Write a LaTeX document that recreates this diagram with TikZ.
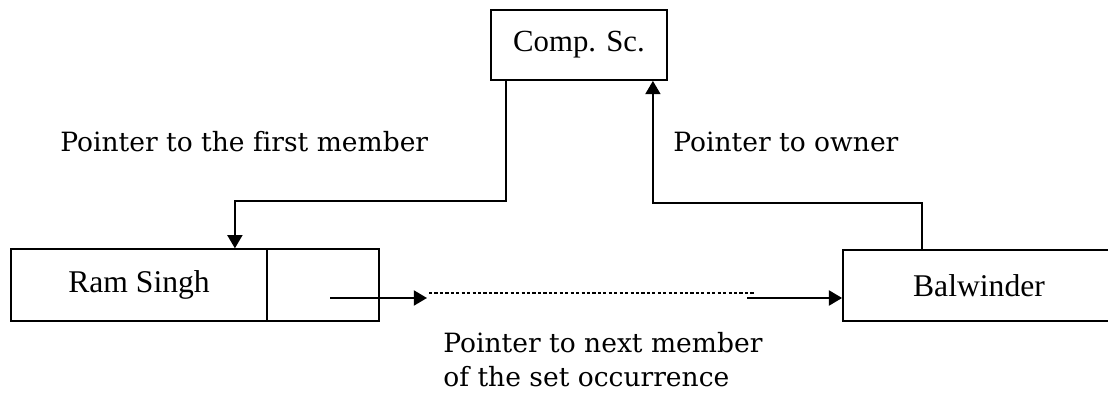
\documentclass[tikz,border=0pt]{standalone}
\usepackage{fontspec}
\setmainfont{Liberation Serif}
\newfontfamily\labelfont[Ligatures=CommonOff]{DejaVu Serif}
\usetikzlibrary{arrows.meta,calc}

\tikzset{
  rec/.style={draw, line width=1.05pt, inner sep=0pt, minimum height=1.43cm,
    font=\fontsize{18}{20}\selectfont},
  lbl/.style={anchor=base west, inner sep=0pt,
    font=\labelfont\fontsize{15.1}{19}\selectfont},
  link/.style={->, line width=1.05pt},
}

\begin{document}
\begin{tikzpicture}[x=0.02cm, y=-0.02cm, >={Triangle[length=7.5pt,width=8.5pt]}]
  \useasboundingbox (0,0) rectangle (1108,394);

  % owner record
  \node[rec, minimum width=3.52cm, minimum height=1.4cm,
    font=\fontsize{17.5}{20}\selectfont] (comp) at (579,45) {Comp. Sc.};

  % member records
  \node[rec, minimum width=5.12cm] (ram) at (139,285) {Ram Singh};
  \node[rec, minimum width=2.24cm] (ramptr) at (323,285) {};
  \node[rec, minimum width=5.44cm] (bal) at (979,285.5) {Balwinder};

  % owner -> first member
  \draw[link] ($(comp.south west)+(16,0)$) |- ($(ram.north east)+(-33,-47)$)
    -- ($(ram.north east)+(-33,0)$);
  % member -> owner
  \draw[link] ($(bal.north west)+(80,0)$) |- ($(comp.south east)+(-15,122)$)
    -- ($(comp.south east)+(-15,0)$);

  % next member chain
  \coordinate (gapL) at (427,298);
  \coordinate (gapR) at (747,298);
  \draw[link, line width=1.3pt] ($(ramptr.center)+(7,13)$) -- (gapL);
  \draw[line width=0.6pt, dash pattern=on 1.8pt off 1.3pt]
    ($(gapL)+(2,-5)$) -- ($(gapR)+(8,-5)$);
  \draw[link, line width=1.3pt] (gapR) -- (bal.west |- gapR);

  % labels
  \node[lbl] (first) at (60,152) {Pointer to the first member};
  \node[lbl] (owner) at (673,152) {Pointer to owner};
  \node[lbl] (next) at (443,353) {Pointer to next member};
  \node[lbl] (occ) at (443,387) {of the set occurrence};
\end{tikzpicture}
\end{document}
